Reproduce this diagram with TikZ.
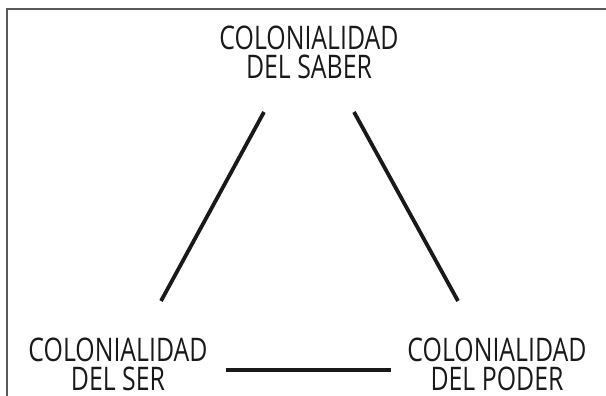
\documentclass[tikz,border=0pt]{standalone}
\usepackage{fontspec}
\setmainfont{Open Sans}[FakeStretch=0.765]
\begin{document}
\begin{tikzpicture}[x=1pt,y=-1pt,
  label/.style={align=center,inner sep=0pt,text=black!90,font=\fontsize{32.5}{29}\selectfont},
  link/.style={line width=3.8pt,black!90},
  frame/.style={line width=1.3pt,black!65}]
\useasboundingbox (0,0) rectangle (606,396);
\draw[frame] (7,396) -- (7,9) -- (606,9);
\node[label] (saber) at (309,52) {COLONIALIDAD\\DEL SABER};
\node[label] (ser) at (118,364.5) {COLONIALIDAD\\DEL SER};
\node[label] (poder) at (497,364.5) {COLONIALIDAD\\DEL PODER};
\coordinate (s1) at (264,112);
\coordinate (s2) at (161,301);
\coordinate (p1) at (354,112);
\coordinate (p2) at (458,301);
\coordinate (b1) at (226,370);
\coordinate (b2) at (391,370);
\draw[link] (s1) -- (s2);
\draw[link] (p1) -- (p2);
\draw[link,line width=4.5pt] (b1) -- (b2);
\end{tikzpicture}
\end{document}
